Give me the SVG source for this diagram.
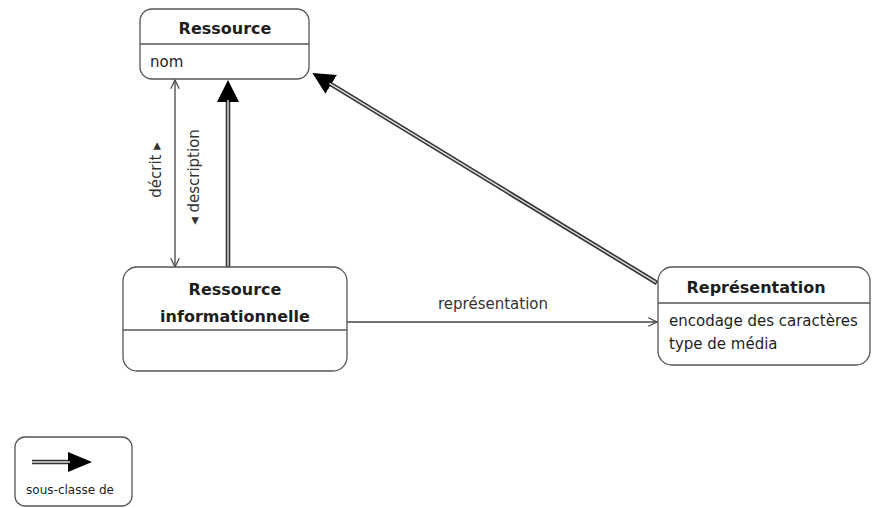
<svg xmlns="http://www.w3.org/2000/svg" width="872" height="508" viewBox="0 0 872 508">
<style>
.box{fill:#fff;stroke:#555;stroke-width:1.3}
.div{stroke:#555;stroke-width:1.3}
.t{font-family:"DejaVu Sans",sans-serif;fill:#1e1e1e}
.title{font-size:16px;font-weight:bold;text-anchor:middle}
.attr{font-size:15px}
.lbl{font-size:15px;fill:#333}
.gen-out{stroke:#333;stroke-width:4.6;fill:none}
.gen-in{stroke:#ddd;stroke-width:1.4;fill:none}
.assoc{stroke:#444;stroke-width:1.3;fill:none}
</style>
<defs>
<marker id="tri" markerUnits="userSpaceOnUse" viewBox="0 0 22 22" markerWidth="22" markerHeight="22" refX="2" refY="11" orient="auto">
<path d="M0,0 L22,11 L0,22 z" fill="#000"/>
</marker>
<marker id="triS" markerUnits="userSpaceOnUse" viewBox="0 0 24 20" markerWidth="24" markerHeight="20" refX="2" refY="10" orient="auto">
<path d="M0,0 L24,10 L0,20 z" fill="#000"/>
</marker>
<marker id="open" markerUnits="userSpaceOnUse" viewBox="0 0 10 10" markerWidth="10" markerHeight="10" refX="9.3" refY="5" orient="auto-start-reverse">
<path d="M0.5,0.8 L9.3,5 L0.5,9.2" fill="none" stroke="#444" stroke-width="1.2"/>
</marker>
</defs>

<g id="connectors">
<line class="assoc" x1="175" y1="80" x2="175" y2="267" marker-start="url(#open)" marker-end="url(#open)"/>
<line class="gen-out" x1="228" y1="267" x2="228" y2="100" marker-end="url(#tri)"/>
<line class="gen-in" x1="228" y1="266" x2="228" y2="100"/>
<line class="gen-out" x1="657" y1="283" x2="329.5" y2="83.4" marker-end="url(#tri)"/>
<line class="gen-in" x1="656" y1="282.4" x2="329.5" y2="83.4"/>
<line class="assoc" x1="347" y1="322" x2="657" y2="322" marker-end="url(#open)"/>
<text class="t lbl" x="493" y="309" text-anchor="middle">représentation</text>
<text class="t lbl" transform="translate(161,170) rotate(-90)" text-anchor="middle">décrit ▸</text>
<text class="t lbl" transform="translate(199,177) rotate(-90)" text-anchor="middle">◂ description</text>
</g>

<g id="ressource">
<rect class="box" x="140" y="9" width="169" height="70" rx="12"/>
<line class="div" x1="140" y1="44" x2="309" y2="44"/>
<text class="t title" x="225" y="34">Ressource</text>
<text class="t attr" x="150" y="67">nom</text>
</g>

<g id="ressource-informationnelle">
<rect class="box" x="123" y="267" width="224" height="104" rx="14"/>
<line class="div" x1="123" y1="330" x2="347" y2="330"/>
<text class="t title" x="235" y="295">Ressource</text>
<text class="t title" x="235" y="322">informationnelle</text>
</g>

<g id="representation">
<rect class="box" x="658" y="267" width="212" height="98" rx="14"/>
<line class="div" x1="658" y1="303" x2="870" y2="303"/>
<text class="t title" x="756" y="293">Représentation</text>
<text class="t attr" x="669" y="326">encodage des caractères</text>
<text class="t attr" x="669" y="349">type de média</text>
</g>

<g id="legende">
<rect class="box" x="15" y="437" width="117" height="69" rx="10"/>
<line class="gen-out" x1="32" y1="462" x2="70" y2="462" marker-end="url(#triS)"/>
<line class="gen-in" x1="32" y1="462" x2="70" y2="462"/>
<text class="t" x="70" y="494" font-size="12" text-anchor="middle">sous-classe de</text>
</g>
</svg>
